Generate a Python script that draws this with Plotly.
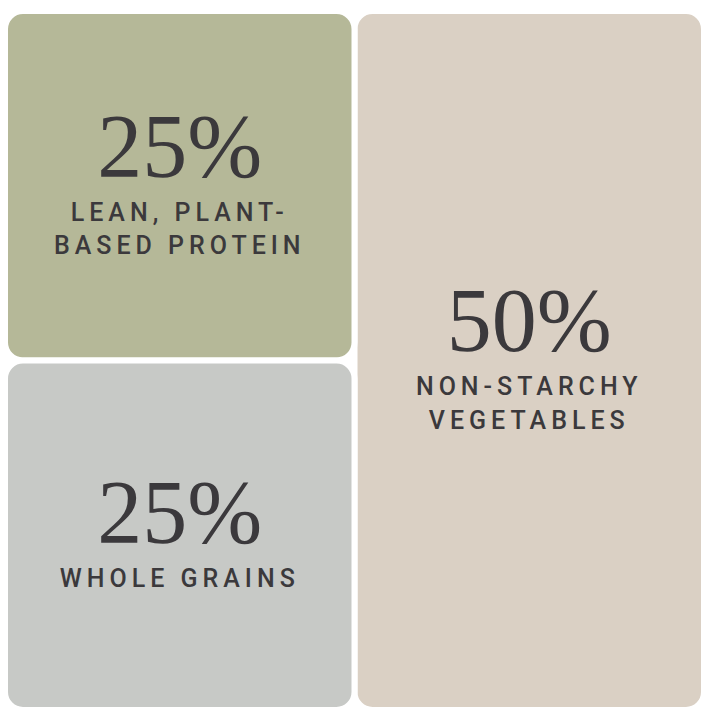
import plotly.graph_objects as go

# ---- data ----
categories = ["Non-starchy vegetables", "Lean, plant-based protein", "Whole grains"]
shares = [50, 25, 25]
label_lines = [["NON-STARCHY", "VEGETABLES"], ["LEAN, PLANT-", "BASED PROTEIN"], ["WHOLE GRAINS"]]
tile_colors = ["#dad0c4", "#b5b898", "#c7c9c6"]

TEXT_COLOR = "#3b393c"
NUM_STYLE = "font-family:Liberation Serif;font-size:90px"
LAB_STYLE = "font-family:Roboto;font-size:25px;font-weight:500;letter-spacing:5px"
PAD_STYLE = "font-family:Roboto;font-size:40px"


def tile_text(share, lines):
    # line offsets are multiples of 1.3 * base font size (8.5px -> ~11px)
    parts = [f"<span style='{NUM_STYLE}'>{share}%</span>", "", "", ""]
    for i, ln in enumerate(lines):
        if i > 0:
            parts += ["", ""]
        parts.append(f"<span style='{LAB_STYLE}'>{ln}</span>")
    # trailing spacer balances the tall ascent of the serif number line
    parts.append(f"<span style='{PAD_STYLE}'>\u00a0</span>")
    return "<br>".join(parts)


texts = [tile_text(s, l) for s, l in zip(shares, label_lines)]

fig = go.Figure(
    go.Treemap(
        labels=categories,
        parents=[""] * len(categories),
        values=shares,
        text=texts,
        texttemplate="%{text}",
        textposition="middle center",
        textfont=dict(family="Roboto", size=8.5, color=TEXT_COLOR),
        sort=False,
        tiling=dict(packing="squarify", flip="x", pad=0),
        marker=dict(
            colors=tile_colors,
            cornerradius=18,
            line=dict(color="white", width=6),
            pad=dict(t=0, l=0, r=0, b=0),
        ),
        root=dict(color="rgba(0,0,0,0)"),
        pathbar=dict(visible=False),
        hoverinfo="skip",
    )
)

fig.update_layout(
    width=704,
    height=714,
    margin=dict(l=5, r=0, t=11, b=4),
    paper_bgcolor="white",
    plot_bgcolor="white",
    showlegend=False,
)

fig.write_html(
    "out.html",
    config={"displayModeBar": False},
    post_script="document.body.style.margin='0';document.body.style.overflow='hidden';",
)
